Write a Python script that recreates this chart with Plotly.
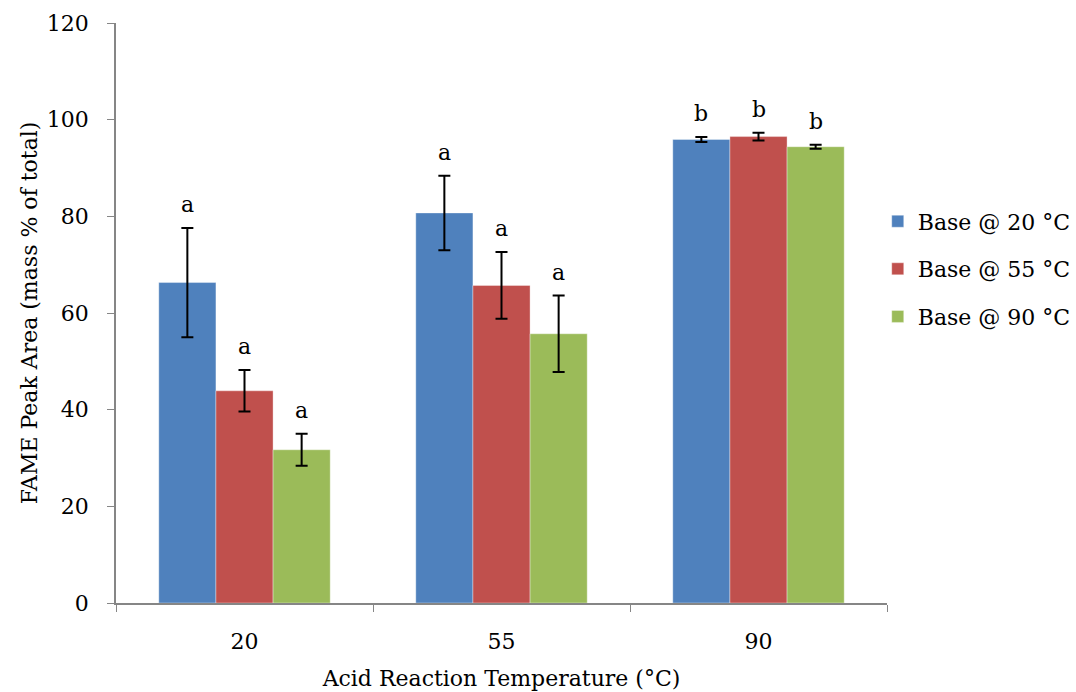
import plotly.graph_objects as go

categories = ["20", "55", "90"]
series_names = ["Base @ 20 °C", "Base @ 55 °C", "Base @ 90 °C"]
colors = ["#4F81BD", "#C0504D", "#9BBB59"]
values = [
    [66.3, 80.7, 95.9],
    [43.9, 65.7, 96.5],
    [31.7, 55.7, 94.4],
]
errors = [
    [11.3, 7.7, 0.5],
    [4.3, 6.9, 0.8],
    [3.3, 7.9, 0.4],
]
letters = [
    ["a", "a", "b"],
    ["a", "a", "b"],
    ["a", "a", "b"],
]

FONT = "DejaVu Serif"
FS = 22
fig = go.Figure()
for i, name in enumerate(series_names):
    fig.add_trace(go.Bar(
        x=categories, y=values[i], name=name,
        marker=dict(color=colors[i], line=dict(width=0.6, color="rgba(255,255,255,0.6)")),
        error_y=dict(type="data", array=errors[i], visible=True, color="black",
                     thickness=2, width=6),
        legendgroup=f"g{i}",
    ))

bargap = 0.333
bar_w = (1 - bargap) / 3
for i in range(3):
    for j in range(3):
        fig.add_annotation(
            x=j + (i - 1) * bar_w, y=values[i][j] + errors[i][j],
            text=letters[i][j], showarrow=False, yanchor="bottom", yshift=9,
            font=dict(family=FONT, size=FS, color="black"),
        )

fig.update_layout(
    width=1076, height=692,
    margin=dict(l=116, r=189, t=23, b=89, autoexpand=False),
    plot_bgcolor="white", paper_bgcolor="white",
    barmode="group", bargap=bargap, bargroupgap=0,
    font=dict(family=FONT, size=FS, color="black"),
    legend=dict(x=0.988, xanchor="left", y=0.576, yanchor="middle",
                tracegroupgap=16, font=dict(family=FONT, size=FS),
                itemwidth=30, bgcolor="rgba(0,0,0,0)"),
    showlegend=True,
)
fig.update_xaxes(
    type="category", range=[-0.5, 2.5],
    showline=True, linecolor="#868686", linewidth=1.5,
    ticks="outside", tickson="boundaries", ticklen=7, tickcolor="#868686",
    ticklabelstandoff=18,
    showgrid=False,
    title=dict(text="Acid Reaction Temperature (°C)", font=dict(family=FONT, size=FS), standoff=17),
)
fig.update_yaxes(
    range=[0, 120], dtick=20,
    showline=True, linecolor="#868686", linewidth=1.5,
    ticks="outside", ticklen=7, tickcolor="#868686",
    ticklabelstandoff=14,
    showgrid=False, zeroline=False,
    title=dict(text="FAME Peak Area (mass % of total)", font=dict(family=FONT, size=FS), standoff=3),
)
fig.write_html("out.html")
